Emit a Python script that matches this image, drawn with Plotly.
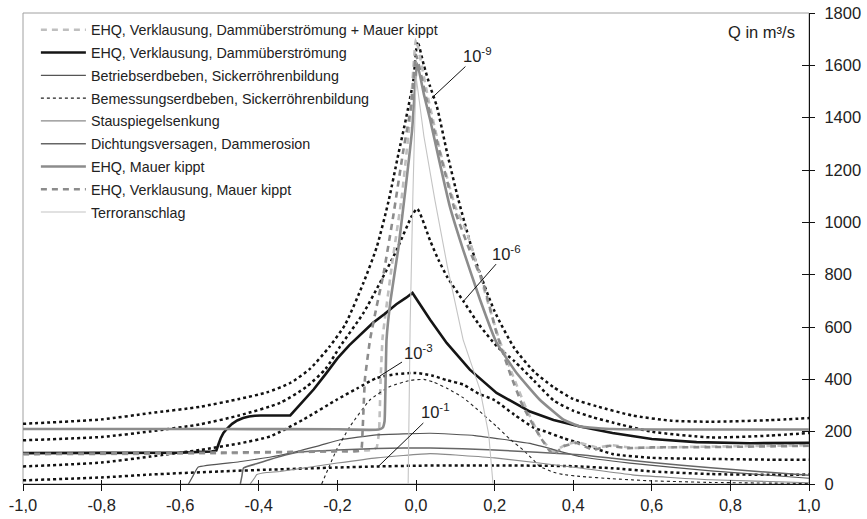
import plotly.graph_objects as go

# ---------------- data ----------------
# iso-risk lines (dotted, unlabeled in legend)
iso9_x = [-1.0,-0.8,-0.676,-0.55,-0.45,-0.38,-0.32,-0.27,-0.22,-0.18,-0.134,-0.1,-0.07,-0.045,-0.025,-0.007,0.004,0.02,0.036,0.053,0.08,0.108,0.15,0.2,0.25,0.3,0.35,0.4,0.46,0.55,0.65,0.75,0.9,1.0]
iso9_y = [230,247,271,295,325,350,386,440,525,610,768,905,1080,1260,1400,1540,1690,1600,1519,1443,1260,1086,860,660,520,430,370,325,297,262,242,238,244,252]
iso6_x = [-1.0,-0.8,-0.676,-0.55,-0.45,-0.346,-0.28,-0.23,-0.193,-0.134,-0.092,-0.049,-0.011,0.003,0.036,0.057,0.08,0.12,0.16,0.206,0.25,0.3,0.35,0.4,0.45,0.5,0.6,0.75,0.9,1.0]
iso6_y = [167,180,201,228,262,310,370,440,526,653,768,895,1023,1052,930,857,790,700,610,526,470,395,320,280,255,235,200,178,185,195]
iso3_x = [-1.0,-0.8,-0.676,-0.55,-0.45,-0.371,-0.287,-0.202,-0.15,-0.1,-0.05,0.0,0.04,0.08,0.12,0.16,0.2,0.25,0.3,0.33,0.375,0.42,0.5,0.6,0.75,0.9,1.0]
iso3_y = [67,82,105,130,155,182,246,322,365,405,420,424,415,396,380,345,320,265,215,200,175,155,115,100,96,93,93]
iso1_x = [-1.0,-0.8,-0.676,-0.5,-0.37,-0.2,-0.1,0.0,0.2,0.4,0.5,0.6,0.75,0.9,1.0]
iso1_y = [14,25,36,48,55,63,67,70,71,68,60,48,38,35,36]

# scenario hydrographs
ehq_vk_dam_mk_x = [-1.0,-0.5,-0.2,-0.11,-0.1,-0.094,-0.09,-0.085,-0.06,-0.036,-0.015,0.0,0.03,0.065,0.1,0.13,0.17,0.21,0.245,0.28,0.32,0.35,0.38,0.41,0.46,0.5,0.55,0.7,1.0]
ehq_vk_dam_mk_y = [113,117,125,130,140,200,400,560,850,1100,1400,1700,1480,1250,1060,960,760,560,420,290,170,125,150,160,140,148,138,142,148]

ehq_vk_dam_x = [-1.0,-0.6,-0.52,-0.508,-0.503,-0.497,-0.49,-0.48,-0.468,-0.455,-0.44,-0.425,-0.41,-0.395,-0.32,-0.29,-0.26,-0.23,-0.2,-0.17,-0.14,-0.11,-0.08,-0.05,-0.025,-0.009,0.036,0.078,0.137,0.205,0.29,0.35,0.417,0.5,0.6,0.714,0.85,1.0]
ehq_vk_dam_y = [118,120,124,128,150,175,195,213,230,243,252,258,261,262,262,310,362,420,480,530,572,615,650,687,712,730,628,539,437,348,277,245,220,195,172,160,156,157]

betrieb_x = [-0.579,-0.566,-0.554,-0.45,-0.346,-0.25,-0.193,-0.1,0.036,0.15,0.29,0.417,0.544,0.75,1.0]
betrieb_y = [0,35,65,85,110,145,169,188,194,185,155,105,80,50,22]

bemessung_x = [-0.24,-0.22,-0.202,-0.168,-0.117,-0.066,-0.015,0.02,0.044,0.08,0.12,0.16,0.205,0.24,0.272,0.3,0.315,0.35,0.375,0.417,0.5,0.6,0.75,1.0]
bemessung_y = [0,70,131,220,322,373,396,400,390,365,330,280,220,170,131,90,67,45,36,29,20,12,6,2]

stau_x = [-0.422,-0.41,-0.405,-0.38,-0.346,-0.2,-0.1,0.036,0.2,0.417,0.55,0.748,1.0]
stau_y = [0,25,36,44,48,80,100,116,100,61,35,16,5]

dicht_x = [-0.447,-0.443,-0.439,-0.4,-0.346,-0.295,-0.2,-0.1,0.036,0.2,0.417,0.5,0.6,0.75,1.0]
dicht_y = [0,30,61,80,105,122,130,136,138,130,112,98,82,62,33]

ehq_mk_x = [-1.0,-0.5,-0.2,-0.12,-0.095,-0.085,-0.08,-0.078,-0.075,-0.065,-0.045,-0.025,-0.01,0.003,0.02,0.036,0.06,0.086,0.12,0.163,0.205,0.256,0.315,0.375,0.417,0.5,0.7,1.0]
ehq_mk_y = [210,210,209,207,208,215,240,350,551,700,900,1150,1350,1608,1490,1392,1230,1061,895,704,540,424,322,246,220,210,208,208]

ehq_vk_mk_x = [-1.0,-0.5,-0.3,-0.2,-0.14,-0.136,-0.13,-0.117,-0.1,-0.083,-0.058,-0.032,-0.011,0.0,0.03,0.061,0.1,0.14,0.171,0.205,0.239,0.272,0.315,0.349,0.375,0.408,0.45,0.493,0.536,0.6,0.75,1.0]
ehq_vk_mk_y = [115,120,123,125,128,200,400,551,680,800,1023,1277,1456,1640,1450,1265,1040,880,768,577,424,297,182,112,144,157,131,146,137,140,141,146]

terror_x = [-0.02,-0.015,-0.008,0.0,0.02,0.048,0.08,0.12,0.163,0.185,0.196]
terror_y = [0,600,1100,1560,1330,1086,830,551,360,190,0]

# axis ticks
x_tickvals = [-1.0,-0.8,-0.6,-0.4,-0.2,0.0,0.2,0.4,0.6,0.8,1.0]
x_ticktext = ["-1,0","-0,8","-0,6","-0,4","-0,2","0,0","0,2","0,4","0,6","0,8","1,0"]
y_tickvals = [0,200,400,600,800,1000,1200,1400,1600,1800]

# iso-line labels (tip of leader line)
iso_labels = ["10<sup>-9</sup>","10<sup>-6</sup>","10<sup>-3</sup>","10<sup>-1</sup>"]
iso_label_x = [0.04,0.12,-0.0915,-0.096]
iso_label_y = [1475,697,413,67]

# ---------------- figure ----------------
fig = go.Figure()

def iso(x, y):
    fig.add_trace(go.Scatter(x=x, y=y, mode="lines", showlegend=False, hoverinfo="skip",
                             legendgroup="iso",
                             line=dict(color="#111111", width=2.5, dash="dot", shape="spline", smoothing=0.6)))

iso(iso9_x, iso9_y)
iso(iso6_x, iso6_y)
iso(iso3_x, iso3_y)
iso(iso1_x, iso1_y)

series = [
    ("EHQ, Verklausung, Dammüberströmung + Mauer kippt", ehq_vk_dam_mk_x, ehq_vk_dam_mk_y, dict(color="#bfbfbf", width=2.6, dash="6px,5px"), "spline"),
    ("EHQ, Verklausung, Dammüberströmung", ehq_vk_dam_x, ehq_vk_dam_y, dict(color="#151515", width=2.6), "linear"),
    ("Betriebserdbeben, Sickerröhrenbildung", betrieb_x, betrieb_y, dict(color="#555555", width=1.2), "spline"),
    ("Bemessungserdbeben, Sickerröhrenbildung", bemessung_x, bemessung_y, dict(color="#222222", width=1.1, dash="3px,3px"), "spline"),
    ("Stauspiegelsenkung", stau_x, stau_y, dict(color="#8a8a8a", width=1.1), "spline"),
    ("Dichtungsversagen, Dammerosion", dicht_x, dicht_y, dict(color="#666666", width=1.5), "spline"),
    ("EHQ, Mauer kippt", ehq_mk_x, ehq_mk_y, dict(color="#8c8c8c", width=2.6), "spline"),
    ("EHQ, Verklausung, Mauer kippt", ehq_vk_mk_x, ehq_vk_mk_y, dict(color="#8c8c8c", width=2.6, dash="6px,5px"), "spline"),
    ("Terroranschlag", terror_x, terror_y, dict(color="#c4c4c4", width=1.1), "linear"),
]
for i, (name, x, y, ln, shp) in enumerate(series):
    ln = dict(ln, shape=shp)
    if shp == "spline":
        ln["smoothing"] = 0.35
    fig.add_trace(go.Scatter(x=x, y=y, mode="lines", name=name, line=ln,
                             legendgroup="g%d" % i, hoverinfo="skip"))

# helper trace for crossing ticks
fig.add_trace(go.Scatter(x=[None], y=[None], xaxis="x2", yaxis="y2", showlegend=False, hoverinfo="skip"))

tick_font = dict(family="Liberation Sans, Arial, sans-serif", size=16.5, color="#222222")

fig.update_layout(
    width=867, height=519,
    margin=dict(l=23, r=58, t=13, b=35, autoexpand=False),
    paper_bgcolor="white", plot_bgcolor="white",
    font=dict(family="Liberation Sans, Arial, sans-serif", color="#222222"),
    xaxis=dict(range=[-1, 1], tickvals=x_tickvals, ticktext=x_ticktext, ticks="outside", ticklen=6,
               tickcolor="#111", tickwidth=1, showline=True, linecolor="#111", linewidth=1.2,
               showgrid=False, zeroline=False, tickfont=tick_font, automargin=False),
    yaxis=dict(range=[0, 1800], tickvals=y_tickvals, side="right", ticks="outside", ticklen=5,
               tickcolor="#111", tickwidth=1, showline=True, linecolor="#111", linewidth=1.2,
               showgrid=False, zeroline=False, tickfont=tick_font, automargin=False,
               ticklabelstandoff=6),
    xaxis2=dict(range=[-1, 1], overlaying="x", anchor="y2", side="bottom", tickvals=x_tickvals,
                ticks="inside", ticklen=4, tickcolor="#111", showticklabels=False,
                showline=False, showgrid=False, zeroline=False, automargin=False),
    yaxis2=dict(range=[0, 1800], overlaying="y", anchor="x2", side="right", tickvals=y_tickvals,
                ticks="inside", ticklen=7, tickcolor="#111", showticklabels=False,
                showline=False, showgrid=False, zeroline=False, automargin=False),
    legend=dict(x=0.0164, y=0.998, xanchor="left", yanchor="top", bgcolor="rgba(0,0,0,0)",
                font=dict(size=14.3, color="#222222"), traceorder="grouped", tracegroupgap=1.2,
                itemwidth=45),
    shapes=[dict(type="rect", xref="paper", yref="paper", x0=0, x1=1, y0=0, y1=1,
                 line=dict(color="#a0a0a0", width=1), layer="below")],
)

offsets = [(46, -43), (43, -49), (38, -24), (57, -55)]
for t, x, y, (ax, ay) in zip(iso_labels, iso_label_x, iso_label_y, offsets):
    fig.add_annotation(x=x, y=y, text=t, showarrow=True, arrowhead=0, arrowwidth=1,
                       arrowcolor="#111", ax=ax, ay=ay, font=dict(size=16.5, color="#222"))

fig.add_annotation(xref="paper", yref="paper", x=0.985, y=0.96, xanchor="right", yanchor="middle",
                   text="Q in m³/s", showarrow=False, font=dict(size=16.5, color="#222"))

fig.write_html("out.html", config={"displayModeBar": False},
               post_script="document.body.style.margin='0px';")
